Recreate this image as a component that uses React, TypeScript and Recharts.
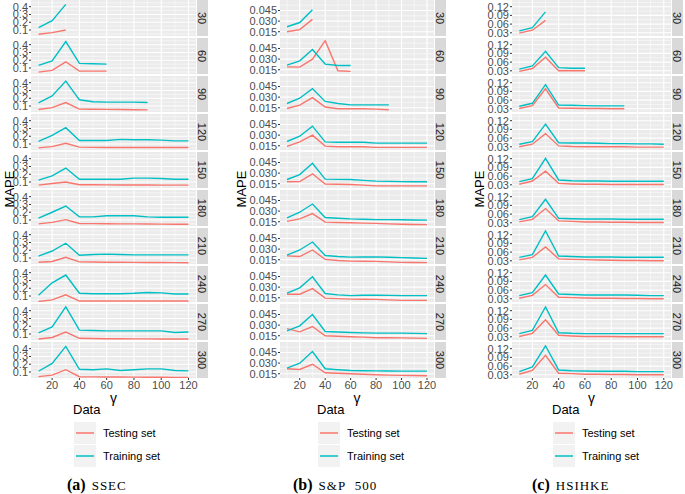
import { LineChart, Line, XAxis, YAxis, CartesianGrid } from 'recharts';

// gamma values on the x axis and the window sizes shown in the facet strips
const gammas = [10, 20, 30, 40, 50, 60, 70, 80, 90, 100, 110, 120];
const windows = [30, 60, 90, 120, 150, 180, 210, 240, 270, 300];
const xTicks = [20, 40, 60, 80, 100, 120];

const ssecTicks = [0.1, 0.2, 0.3, 0.4];
const spTicks = [0.015, 0.03, 0.045];
const hsiTicks = [0.03, 0.06, 0.09, 0.12];

const ssecTesting = [
  [0.046, 0.067, 0.1],
  [0.047, 0.07, 0.18, 0.06, 0.06, 0.06],
  [0.055, 0.08, 0.145, 0.06, 0.058, 0.057, 0.055, 0.052, 0.05],
  [0.05, 0.067, 0.11, 0.06, 0.057, 0.055, 0.055, 0.055, 0.055, 0.055, 0.055, 0.055],
  [0.06, 0.08, 0.1, 0.065, 0.064, 0.063, 0.062, 0.062, 0.061, 0.06, 0.06, 0.06],
  [0.05, 0.07, 0.105, 0.055, 0.054, 0.052, 0.05, 0.05, 0.048, 0.047, 0.046, 0.045],
  [0.045, 0.055, 0.11, 0.05, 0.048, 0.046, 0.045, 0.044, 0.043, 0.042, 0.041, 0.04],
  [0.03, 0.05, 0.115, 0.035, 0.035, 0.035, 0.035, 0.035, 0.035, 0.035, 0.035, 0.035],
  [0.035, 0.055, 0.125, 0.045, 0.043, 0.04, 0.04, 0.038, 0.037, 0.036, 0.035, 0.035],
  [0.04, 0.06, 0.13, 0.04, 0.038, 0.036, 0.035, 0.034, 0.033, 0.032, 0.031, 0.03],
];
const ssecTraining = [
  [0.13, 0.22, 0.43],
  [0.133, 0.19, 0.44, 0.16, 0.155, 0.15],
  [0.14, 0.23, 0.42, 0.18, 0.155, 0.15, 0.15, 0.15, 0.145],
  [0.133, 0.21, 0.31, 0.145, 0.145, 0.145, 0.16, 0.155, 0.155, 0.15, 0.14, 0.14],
  [0.125, 0.18, 0.28, 0.135, 0.135, 0.135, 0.135, 0.15, 0.15, 0.145, 0.135, 0.135],
  [0.125, 0.2, 0.28, 0.14, 0.14, 0.155, 0.155, 0.155, 0.14, 0.135, 0.135, 0.135],
  [0.125, 0.19, 0.29, 0.135, 0.145, 0.15, 0.145, 0.14, 0.14, 0.14, 0.14, 0.14],
  [0.11, 0.27, 0.37, 0.135, 0.13, 0.13, 0.13, 0.135, 0.145, 0.14, 0.125, 0.125],
  [0.115, 0.19, 0.45, 0.15, 0.145, 0.14, 0.14, 0.14, 0.14, 0.14, 0.12, 0.125],
  [0.11, 0.21, 0.43, 0.135, 0.13, 0.14, 0.12, 0.13, 0.14, 0.14, 0.12, 0.115],
];

const spTesting = [
  [0.015, 0.018, 0.0325],
  [0.019, 0.0187, 0.03, 0.056, 0.0136, 0.0127],
  [0.014, 0.0187, 0.0293, 0.016, 0.0136, 0.0136, 0.0135, 0.013, 0.0122],
  [0.014, 0.0205, 0.03, 0.0145, 0.0136, 0.0136, 0.0136, 0.0127, 0.0127, 0.0127, 0.0127, 0.0127],
  [0.0178, 0.018, 0.029, 0.0145, 0.0142, 0.014, 0.013, 0.012, 0.012, 0.012, 0.012, 0.012],
  [0.0155, 0.019, 0.0265, 0.0145, 0.014, 0.0136, 0.013, 0.0127, 0.012, 0.0115, 0.0112, 0.011],
  [0.0205, 0.0195, 0.0288, 0.0155, 0.014, 0.013, 0.0128, 0.0127, 0.012, 0.0113, 0.0111, 0.011],
  [0.02, 0.02, 0.0279, 0.0145, 0.0138, 0.013, 0.0128, 0.0127, 0.012, 0.0113, 0.0113, 0.0113],
  [0.025, 0.0205, 0.028, 0.015, 0.0142, 0.0136, 0.013, 0.0122, 0.0121, 0.012, 0.0116, 0.0113],
  [0.022, 0.021, 0.0284, 0.0164, 0.0157, 0.015, 0.0143, 0.0136, 0.013, 0.0127, 0.0125, 0.0122],
];
const spTraining = [
  [0.022, 0.028, 0.046],
  [0.0215, 0.0275, 0.0436, 0.023, 0.021, 0.021],
  [0.021, 0.0284, 0.042, 0.024, 0.021, 0.019, 0.019, 0.019, 0.019],
  [0.021, 0.0284, 0.0427, 0.0205, 0.02, 0.02, 0.02, 0.0187, 0.0187, 0.0187, 0.0187, 0.0187],
  [0.021, 0.028, 0.044, 0.0215, 0.0212, 0.021, 0.0198, 0.0187, 0.0183, 0.018, 0.0178, 0.0178],
  [0.0205, 0.0284, 0.04, 0.021, 0.02, 0.019, 0.0185, 0.018, 0.018, 0.0178, 0.0175, 0.0173],
  [0.0215, 0.0288, 0.04, 0.021, 0.0195, 0.0187, 0.0188, 0.019, 0.0185, 0.018, 0.0175, 0.017],
  [0.0215, 0.029, 0.0445, 0.021, 0.019, 0.018, 0.0185, 0.0187, 0.0183, 0.018, 0.018, 0.018],
  [0.022, 0.029, 0.045, 0.021, 0.0202, 0.0195, 0.019, 0.0187, 0.0187, 0.0187, 0.0183, 0.018],
  [0.0228, 0.0298, 0.0464, 0.022, 0.0207, 0.0196, 0.0193, 0.019, 0.0188, 0.0187, 0.0187, 0.0187],
];

const hsiTesting = [
  [0.029, 0.039, 0.073],
  [0.028, 0.038, 0.077, 0.03, 0.03, 0.03],
  [0.031, 0.041, 0.099, 0.033, 0.032, 0.031, 0.031, 0.03, 0.03],
  [0.03, 0.039, 0.0755, 0.033, 0.031, 0.03, 0.03, 0.03, 0.03, 0.029, 0.029, 0.029],
  [0.032, 0.043, 0.077, 0.035, 0.033, 0.032, 0.032, 0.031, 0.031, 0.031, 0.031, 0.031],
  [0.033, 0.042, 0.079, 0.0367, 0.035, 0.033, 0.033, 0.032, 0.032, 0.031, 0.031, 0.031],
  [0.033, 0.042, 0.078, 0.0367, 0.035, 0.034, 0.033, 0.032, 0.031, 0.031, 0.03, 0.03],
  [0.032, 0.042, 0.079, 0.0355, 0.034, 0.033, 0.032, 0.032, 0.031, 0.031, 0.03, 0.03],
  [0.031, 0.042, 0.089, 0.0355, 0.033, 0.031, 0.031, 0.031, 0.03, 0.03, 0.03, 0.03],
  [0.032, 0.0455, 0.097, 0.0355, 0.034, 0.032, 0.032, 0.031, 0.031, 0.03, 0.03, 0.03],
];
const hsiTraining = [
  [0.0367, 0.0478, 0.102],
  [0.036, 0.047, 0.097, 0.041, 0.039, 0.039],
  [0.039, 0.049, 0.113, 0.043, 0.042, 0.041, 0.04, 0.04, 0.04],
  [0.039, 0.048, 0.108, 0.044, 0.043, 0.043, 0.042, 0.041, 0.041, 0.04, 0.04, 0.039],
  [0.041, 0.051, 0.121, 0.0467, 0.044, 0.043, 0.043, 0.042, 0.042, 0.042, 0.042, 0.042],
  [0.041, 0.051, 0.111, 0.0455, 0.044, 0.043, 0.043, 0.043, 0.042, 0.042, 0.042, 0.042],
  [0.042, 0.051, 0.133, 0.0467, 0.045, 0.043, 0.043, 0.043, 0.042, 0.042, 0.042, 0.042],
  [0.041, 0.051, 0.112, 0.0467, 0.045, 0.043, 0.043, 0.043, 0.043, 0.042, 0.041, 0.041],
  [0.041, 0.052, 0.133, 0.044, 0.042, 0.041, 0.041, 0.041, 0.041, 0.041, 0.041, 0.041],
  [0.041, 0.057, 0.13, 0.0467, 0.044, 0.043, 0.042, 0.042, 0.042, 0.041, 0.041, 0.041],
];

const TEST_COLOR = '#F8766D';
const TRAIN_COLOR = '#00BFC4';
const SANS = '"Liberation Sans", Arial, Helvetica, sans-serif';
const SERIF = '"Liberation Serif", "DejaVu Serif", serif';
const PANEL_H = 36;
const PANEL_PITCH = 38;
const AXIS_W = 40;
const RIGHT_PAD = 12;
const X_DOMAIN = [4.5, 125.5];

const columns = [
  {
    letter: 'a', name: 'SSEC', testing: ssecTesting, training: ssecTraining,
    ticks: ssecTicks, domain: [0.023, 0.486], digits: 1,
    plotLeft: 31, plotRight: 196, mapeX: 10, legendX: 73, captionX: 67,
  },
  {
    letter: 'b', name: 'S&P\u00a0\u00a0500', testing: spTesting, training: spTraining,
    ticks: spTicks, domain: [0.009, 0.0598], digits: 3,
    plotLeft: 280, plotRight: 434, mapeX: 242, legendX: 317, captionX: 293,
  },
  {
    letter: 'c', name: 'HSIHKE', testing: hsiTesting, training: hsiTraining,
    ticks: hsiTicks, domain: [0.019, 0.143], digits: 2,
    plotLeft: 512, plotRight: 671, mapeX: 480, legendX: 552, captionX: 532,
  },
];

const midpoints = (t: number[]) => {
  const step = t[1] - t[0];
  return [t[0] - step / 2, ...t.map((v) => v + step / 2)];
};
const xMinor = [10, 30, 50, 70, 90, 110];

// grid line positions inside the plot area, from the same domains the axes use
const hGen = (vals: number[], dom: number[]) => ({ offset }: any) =>
  vals.map((v) => offset.top + offset.height * (1 - (v - dom[0]) / (dom[1] - dom[0])));
const vGen = (vals: number[], dom: number[]) => ({ offset }: any) =>
  vals.map((v) => offset.left + (offset.width * (v - dom[0])) / (dom[1] - dom[0]));

const Panel = ({ col, row }: { col: any; row: number }) => {
  const bottom = row === windows.length - 1;
  const test = col.testing[row];
  const train = col.training[row];
  const data = gammas.slice(0, test.length).map((g, i) => ({ g, test: test[i], train: train[i] }));
  const plotW = col.plotRight - col.plotLeft;
  const yMinor = midpoints(col.ticks).filter((v) => v > col.domain[0] && v < col.domain[1]);

  return (
    <div style={{ position: 'absolute', left: col.plotLeft - AXIS_W, top: row * PANEL_PITCH }}>
      <LineChart
        width={AXIS_W + plotW + RIGHT_PAD}
        height={PANEL_H + (bottom ? 16 : 0)}
        data={data}
        margin={{ top: 0, right: RIGHT_PAD, bottom: 0, left: 0 }}
      >
        <CartesianGrid
          fill="#EBEBEB"
          fillOpacity={1}
          stroke="#FFFFFF"
          strokeWidth={0.5}
          horizontalCoordinatesGenerator={hGen(yMinor, col.domain)}
          verticalCoordinatesGenerator={vGen(xMinor, X_DOMAIN)}
        />
        <CartesianGrid
          stroke="#FFFFFF"
          strokeWidth={1.1}
          horizontalCoordinatesGenerator={hGen(col.ticks, col.domain)}
          verticalCoordinatesGenerator={vGen(xTicks, X_DOMAIN)}
        />
        <XAxis
          type="number"
          dataKey="g"
          domain={X_DOMAIN}
          ticks={xTicks}
          interval={0}
          hide={!bottom}
          height={16}
          axisLine={false}
          tickSize={2}
          tickMargin={1}
          tickLine={{ stroke: '#333333' }}
          tick={{ fontSize: 11, fill: '#4D4D4D', fontFamily: SANS }}
        />
        <YAxis
          type="number"
          domain={col.domain}
          allowDataOverflow
          ticks={col.ticks}
          interval={0}
          width={AXIS_W}
          axisLine={false}
          tickSize={2}
          tickMargin={1}
          tickLine={{ stroke: '#333333' }}
          tick={{ fontSize: 11, fill: '#4D4D4D', fontFamily: SANS }}
          tickFormatter={(v: number) => v.toFixed(col.digits)}
        />
        <Line type="linear" dataKey="test" stroke={TEST_COLOR} strokeWidth={1.4} dot={false} isAnimationActive={false} />
        <Line type="linear" dataKey="train" stroke={TRAIN_COLOR} strokeWidth={1.4} dot={false} isAnimationActive={false} />
      </LineChart>
    </div>
  );
};

const Column = ({ col }: { col: any }) => {
  const plotMid = (col.plotLeft + col.plotRight) / 2;
  const gridH = windows.length * PANEL_PITCH - 2;
  return (
    <>
      {windows.map((w, r) => (
        <div
          key={`s-${w}`}
          style={{
            position: 'absolute', left: col.plotRight + 1, top: r * PANEL_PITCH, width: 11, height: PANEL_H,
            background: '#D9D9D9', display: 'flex', alignItems: 'center', justifyContent: 'center',
          }}
        >
          <span style={{ transform: 'rotate(90deg)', fontSize: 11, color: '#1A1A1A', fontFamily: SANS, whiteSpace: 'nowrap' }}>
            {w}
          </span>
        </div>
      ))}
      {windows.map((w, r) => (
        <Panel key={`p-${w}`} col={col} row={r} />
      ))}
      <div
        style={{
          position: 'absolute', left: col.mapeX - 30, top: gridH / 2 - 8, width: 60, height: 16, textAlign: 'center',
          transform: 'rotate(-90deg)', fontSize: 13, fontFamily: SANS, color: '#000', lineHeight: '16px',
        }}
      >
        MAPE
      </div>
      <div
        style={{
          position: 'absolute', left: plotMid - 20, top: 390, width: 40, textAlign: 'center',
          fontSize: 14, fontFamily: SANS, color: '#000', lineHeight: '16px',
        }}
      >
        γ
      </div>
      <div style={{ position: 'absolute', left: col.legendX, top: 402, fontSize: 13, fontFamily: SANS, lineHeight: '16px' }}>
        Data
      </div>
      {[
        { label: 'Testing set', color: TEST_COLOR },
        { label: 'Training set', color: TRAIN_COLOR },
      ].map((k, i) => (
        <div key={k.label}>
          <svg
            width={22}
            height={22}
            style={{ position: 'absolute', left: col.legendX + 1, top: 422 + i * 23, background: '#F2F2F2' }}
          >
            <line x1={2} x2={20} y1={11} y2={11} stroke={k.color} strokeWidth={1.5} />
          </svg>
          <div
            style={{
              position: 'absolute', left: col.legendX + 30, top: 425 + i * 23, fontSize: 11, fontFamily: SANS,
              lineHeight: '16px', whiteSpace: 'nowrap',
            }}
          >
            {k.label}
          </div>
        </div>
      ))}
      <div
        style={{
          position: 'absolute', left: col.captionX, top: 476, fontFamily: SERIF, lineHeight: '18px', whiteSpace: 'nowrap',
        }}
      >
        <span style={{ fontWeight: 'bold', fontSize: 16 }}>({col.letter})</span>
        <span style={{ fontSize: 13, letterSpacing: 1, marginLeft: 6 }}>{col.name}</span>
      </div>
    </>
  );
};

export default function App() {
  return (
    <div style={{ position: 'absolute', left: 0, top: 0, width: 685, height: 494, background: '#FFFFFF', overflow: 'hidden' }}>
      <style>{'.recharts-surface, .recharts-wrapper { overflow: visible !important; }'}</style>
      {columns.map((c) => (
        <Column key={c.letter} col={c} />
      ))}
    </div>
  );
}
